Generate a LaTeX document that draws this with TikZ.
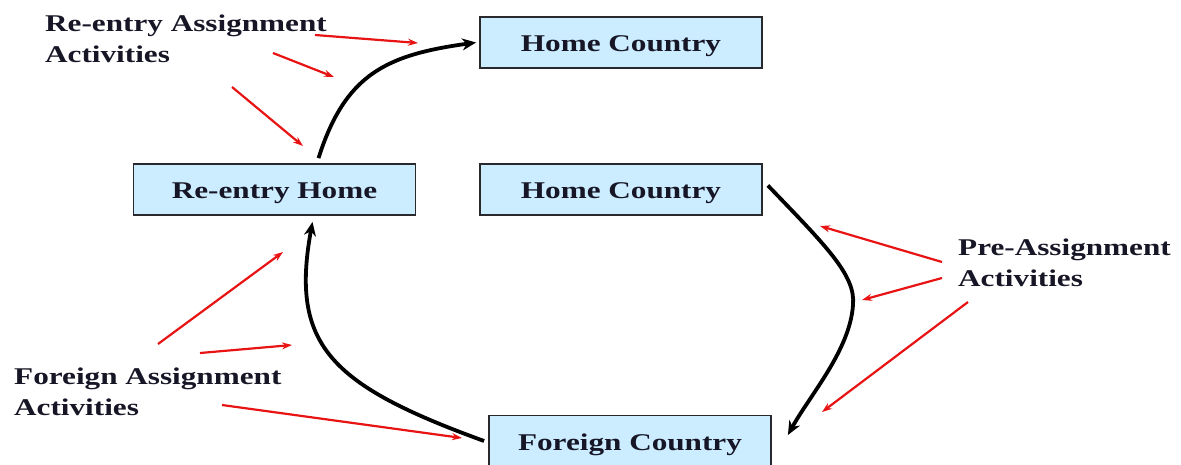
\documentclass[tikz,border=0pt]{standalone}
\usepackage{fontspec}
\setmainfont{Liberation Serif}[FakeStretch=1.3]
\usetikzlibrary{arrows.meta}
\definecolor{boxfill}{RGB}{204,236,255}
\definecolor{boxline}{RGB}{40,40,45}
\definecolor{ink}{RGB}{22,22,38}
\definecolor{hint}{RGB}{232,20,20}
\begin{document}
\begin{tikzpicture}[x=1pt,y=-1pt,
  stage/.style={draw=boxline,line width=1.8pt,fill=boxfill,minimum width=282pt,
    minimum height=51pt,inner sep=0pt,text height=18.5pt,text depth=0pt,text=ink,
    font=\fontsize{24}{28}\selectfont\bfseries},
  caption/.style={anchor=north west,inner sep=0pt,align=left,text=ink,
    font=\fontsize{24}{31}\selectfont\bfseries},
  flow/.style={line width=3.8pt,-{Stealth[length=14pt,width=12pt]}},
  pointer/.style={hint,line width=2.2pt,-{Stealth[length=10pt,width=7pt]}}]
\useasboundingbox (0,0) rectangle (1181,464);

% stages of the assignment cycle
\node[stage] (hctop) at (621,42.5)  {Home Country};
\node[stage] (reh)   at (274.5,189.5) {Re-entry Home};
\node[stage] (hcmid) at (621,189.5) {Home Country};
\node[stage] (fc)    at (630,441)   {Foreign Country};

% activity captions
\node[caption] (reacts) at (45,15)  {Re-entry Assignment\\Activities};
\node[caption] (preacts) at (958,239) {Pre-Assignment\\Activities};
\node[caption] (foracts) at (14,368) {Foreign Assignment\\Activities};

% cycle: home -> foreign -> re-entry -> home
\draw[flow] ([xshift=5pt,yshift=4pt]hcmid.east)
  .. controls (825,245) and (856,275) .. (853,305)
  .. controls (850,350) and (810,395) .. ([xshift=16pt,yshift=6pt]fc.east);
\draw[flow] ([xshift=-4pt]fc.west)
  .. controls (330,385) and (290,345) .. ([xshift=38pt,yshift=-6pt]reh.south);
\draw[flow] ([xshift=44pt,yshift=5pt]reh.north)
  .. controls (345,75) and (385,55) .. ([xshift=-3pt]hctop.west);

% pointer tails
\coordinate (r1) at (315,35);
\coordinate (r2) at (273,53);
\coordinate (r3) at (232,87);
\coordinate (p1) at (942,262);
\coordinate (p2) at (942,278);
\coordinate (p3) at (968,302);
\coordinate (f1) at (158,344);
\coordinate (f2) at (200,353);
\coordinate (f3) at (222,405);
% pointer heads
\coordinate (r1h) at (418,43);
\coordinate (r2h) at (334,77);
\coordinate (r3h) at (303,146);
\coordinate (p1h) at (820,226);
\coordinate (p2h) at (862,300);
\coordinate (p3h) at (822,412);
\coordinate (f1h) at (283,252);
\coordinate (f2h) at (292,345);
\coordinate (f3h) at (462,438);

\foreach \a in {r1,r2,r3,p1,p2,p3,f1,f2,f3}
  \draw[pointer] (\a) -- (\a h);
\end{tikzpicture}
\end{document}
